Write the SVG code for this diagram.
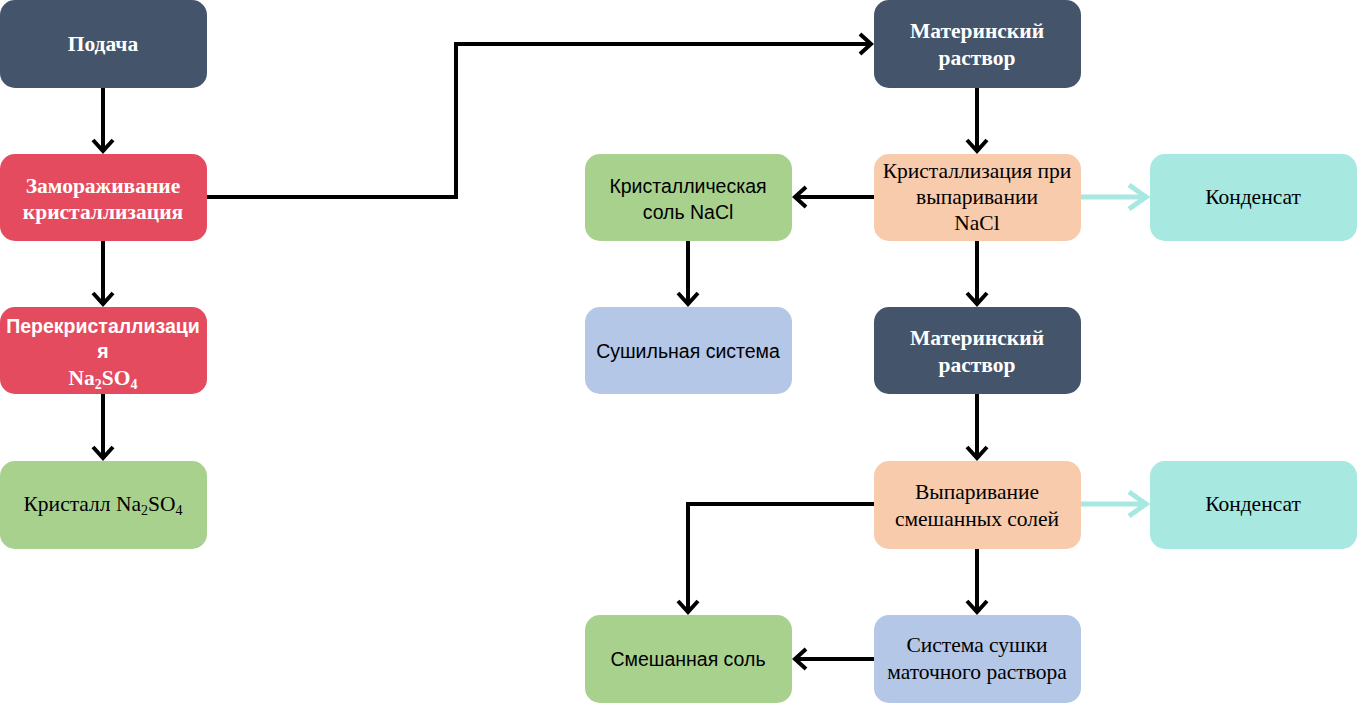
<svg xmlns="http://www.w3.org/2000/svg" width="1357" height="704" viewBox="0 0 1357 704">
<style>
.dark{fill:#44546A}.red{fill:#E54B5E}.green{fill:#A9D18E}.blue{fill:#B4C7E7}.orange{fill:#F8CBAD}.teal{fill:#A7E8E1}
.sb{font-family:"Liberation Serif","Times New Roman",serif;font-weight:bold;font-size:21.5px;fill:#fff;text-anchor:middle}
.s{font-family:"Liberation Serif","Times New Roman",serif;font-size:21.5px;fill:#000;text-anchor:middle}
.ss{font-family:"Liberation Sans",Arial,sans-serif;font-size:19.5px;fill:#000;text-anchor:middle}
.ssb{font-family:"Liberation Sans",Arial,sans-serif;font-weight:bold;font-size:19.5px;fill:#fff;text-anchor:middle}
.c{fill:none;stroke:#000;stroke-width:4}
.ct{fill:none;stroke:#A7E8E1;stroke-width:5}
</style>
<defs>
<marker id="ab" markerUnits="userSpaceOnUse" markerWidth="30" markerHeight="30" refX="14" refY="12" orient="auto" viewBox="0 0 30 24">
<path d="M3,2 L14,12 L3,22" fill="none" stroke="#000" stroke-width="4"/>
</marker>
<marker id="at" markerUnits="userSpaceOnUse" markerWidth="34" markerHeight="34" refX="22" refY="14" orient="auto" viewBox="0 0 34 28">
<path d="M4,2 L21,14 L4,26" fill="none" stroke="#A7E8E1" stroke-width="5"/>
</marker>
</defs>
<g id="connectors">
<path class="c" d="M103,88 V151" marker-end="url(#ab)"/>
<path class="c" d="M103,241 V304" marker-end="url(#ab)"/>
<path class="c" d="M103,394 V458" marker-end="url(#ab)"/>
<path class="c" d="M207,197 H456 V44 H871" marker-end="url(#ab)"/>
<path class="c" d="M977,88 V151" marker-end="url(#ab)"/>
<path class="c" d="M874,197 H795" marker-end="url(#ab)"/>
<path class="ct" d="M1080,197 H1147" marker-end="url(#at)"/>
<path class="c" d="M977,241 V304" marker-end="url(#ab)"/>
<path class="c" d="M688,241 V304" marker-end="url(#ab)"/>
<path class="c" d="M977,394 V458" marker-end="url(#ab)"/>
<path class="c" d="M874,504 H688 V612" marker-end="url(#ab)"/>
<path class="ct" d="M1080,504 H1147" marker-end="url(#at)"/>
<path class="c" d="M977,549 V612" marker-end="url(#ab)"/>
<path class="c" d="M874,659 H795" marker-end="url(#ab)"/>
</g>
<g id="podacha"><rect class="dark" x="0" y="0" width="207" height="88" rx="15"/><text class="sb" x="103" y="51">Подача</text></g>
<g id="zamor"><rect class="red" x="0" y="154" width="207" height="87" rx="15"/><text class="sb" x="103" y="193">Замораживание</text><text class="sb" x="103" y="219">кристаллизация</text></g>
<g id="perek"><rect class="red" x="0" y="307" width="207" height="87" rx="15"/><text class="ssb" x="103" y="333">Перекристаллизаци</text><text class="ssb" x="103" y="358">я</text><text class="sb" x="103" y="385">Na<tspan font-size="14" dy="4">2</tspan><tspan dy="-4">SO</tspan><tspan font-size="14" dy="4">4</tspan></text></g>
<g id="kristall"><rect class="green" x="0" y="461" width="207" height="88" rx="15"/><text class="s" x="103" y="511">Кристалл Na<tspan font-size="14" dy="4">2</tspan><tspan dy="-4">SO</tspan><tspan font-size="14" dy="4">4</tspan></text></g>
<g id="mat1"><rect class="dark" x="874" y="0" width="207" height="88" rx="15"/><text class="sb" x="977" y="38">Материнский</text><text class="sb" x="977" y="65">раствор</text></g>
<g id="kristnacl"><rect class="orange" x="874" y="154" width="207" height="87" rx="15"/><text class="s" x="977" y="178">Кристаллизация при</text><text class="s" x="977" y="204">выпаривании</text><text class="s" x="977" y="230">NaCl</text></g>
<g id="kondensat1"><rect class="teal" x="1150" y="154" width="207" height="87" rx="15"/><text class="s" x="1253" y="204">Конденсат</text></g>
<g id="kristsol"><rect class="green" x="585" y="154" width="207" height="87" rx="15"/><text class="ss" x="688" y="193">Кристаллическая</text><text class="ss" x="688" y="219">соль NaCl</text></g>
<g id="sushka"><rect class="blue" x="585" y="307" width="207" height="87" rx="15"/><text class="ss" x="688" y="358">Сушильная система</text></g>
<g id="mat2"><rect class="dark" x="874" y="307" width="207" height="87" rx="15"/><text class="sb" x="977" y="345">Материнский</text><text class="sb" x="977" y="372">раствор</text></g>
<g id="vyp"><rect class="orange" x="874" y="461" width="207" height="88" rx="15"/><text class="s" x="977" y="499">Выпаривание</text><text class="s" x="977" y="526">смешанных солей</text></g>
<g id="kondensat2"><rect class="teal" x="1150" y="461" width="207" height="88" rx="15"/><text class="s" x="1253" y="511">Конденсат</text></g>
<g id="smesh"><rect class="green" x="585" y="615" width="207" height="88" rx="15"/><text class="ss" x="688" y="666">Смешанная соль</text></g>
<g id="sistema"><rect class="blue" x="874" y="615" width="207" height="88" rx="15"/><text class="s" x="977" y="652">Система сушки</text><text class="s" x="977" y="679">маточного раствора</text></g>
</svg>
